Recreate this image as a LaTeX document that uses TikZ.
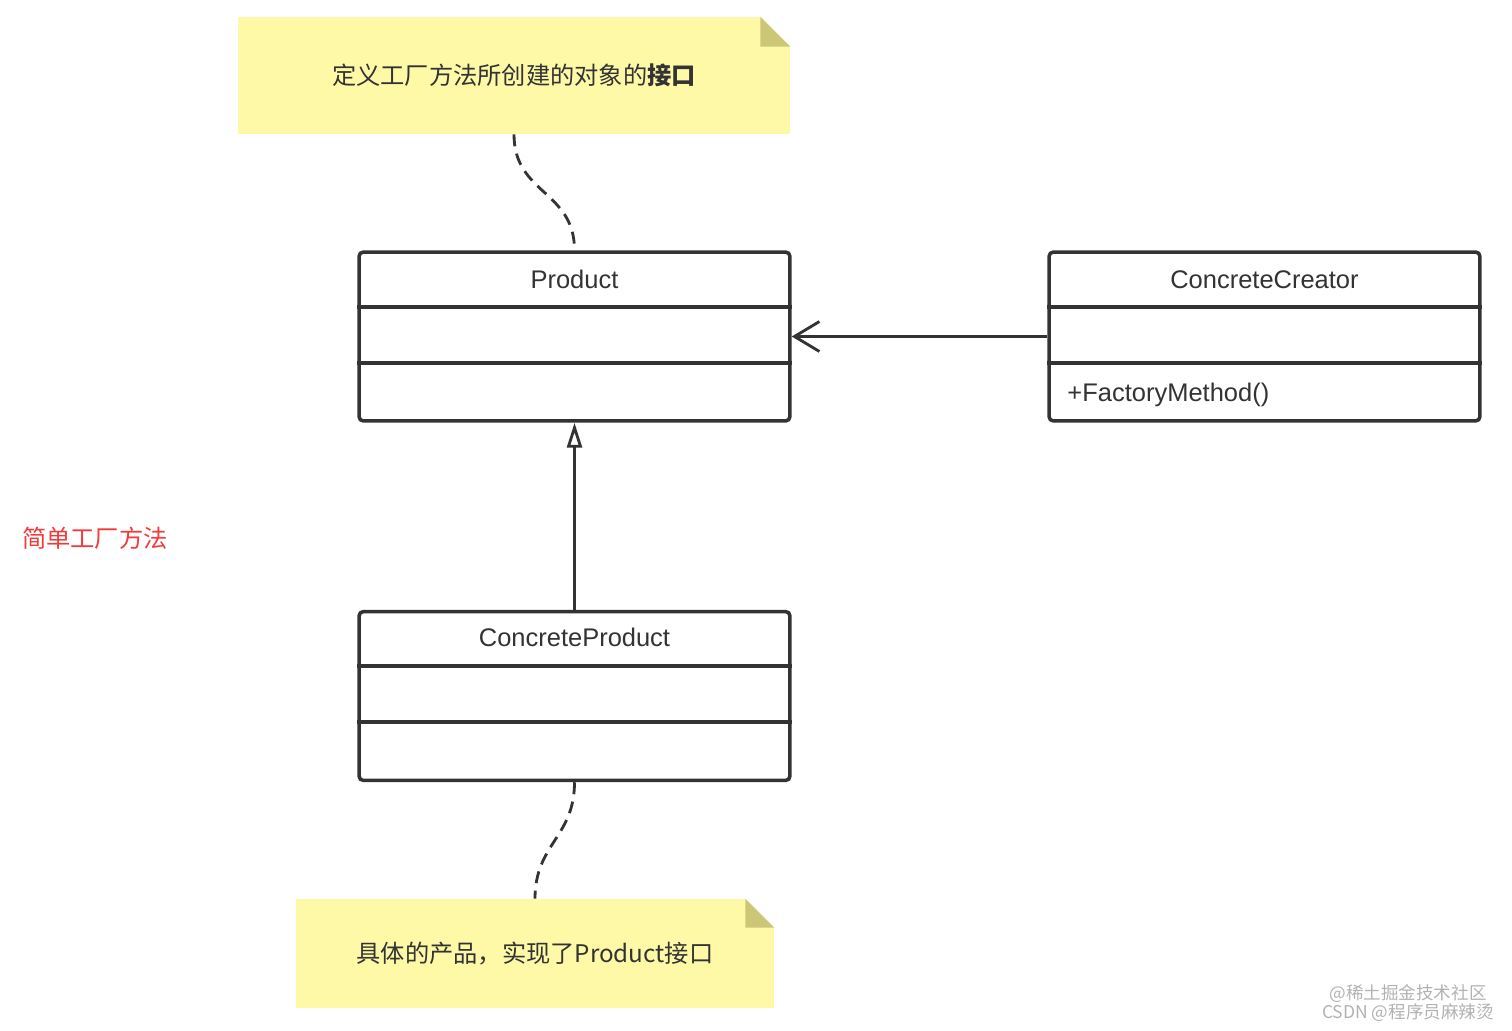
\documentclass[tikz,border=0pt]{standalone}
\usepackage{fontspec}
\setmainfont{Liberation Sans}
\newfontfamily\cjk{Noto Sans CJK SC}
\usetikzlibrary{arrows.meta,positioning}
\definecolor{notefill}{HTML}{FDF9A6}
\definecolor{notefold}{HTML}{CCC777}
\definecolor{umlline}{HTML}{333333}
\definecolor{tipred}{HTML}{F23A3A}

\begin{document}
\begin{tikzpicture}[x=0.02cm, y=-0.02cm,
  classbox/.style={draw=umlline, line width=2pt, rounded corners=2.5pt,
    minimum width=8.62cm, minimum height=3.38cm, inner sep=0pt},
  classname/.style={font=\fontsize{14.5}{17}\selectfont, text=umlline},
  divider/.style={draw=umlline, line width=2pt},
  notebox/.style={fill=notefill, inner sep=0pt},
  notetext/.style={font=\cjk\fontsize{13.8}{16}\selectfont, text=umlline},
  dashlink/.style={draw=umlline, line width=1.6pt, dash pattern=on 0.24cm off 0.15cm},
  link/.style={draw=umlline, line width=1.6pt}
]
  \useasboundingbox (0,0) rectangle (1512,1031);

  % Notes
  \node[notebox, minimum width=11.04cm, minimum height=2.34cm] (defnote) at (514,75.5) {};
  \fill[white] (defnote.north east) -- ++(-30,0) -- ++(30,30) -- cycle;
  \fill[notefold] (defnote.north east) ++(-30,0) -- ++(0,30) -- ++(30,0) -- cycle;
  \node[notetext] (deftext) at (defnote.center) {定义工厂方法所创建的对象的\textbf{接口}};

  \node[notebox, minimum width=9.56cm, minimum height=2.18cm] (implnote) at (535,953.5) {};
  \fill[white] (implnote.north east) -- ++(-29,0) -- ++(29,29) -- cycle;
  \fill[notefold] (implnote.north east) ++(-29,0) -- ++(0,29) -- ++(29,0) -- cycle;
  \node[notetext] (impltext) at (implnote.center) {具体的产品，实现了Product接口};

  % Classes
  \node[classbox] (product) at (574.5,336.5) {};
  \node[classname] (producttitle) at ([yshift=-0.58cm]product.north) {Product};
  \draw[divider] ([yshift=-1.14cm]product.north west) -- ([yshift=-1.14cm]product.north east);
  \draw[divider] ([yshift=-2.26cm]product.north west) -- ([yshift=-2.26cm]product.north east);

  \node[classbox] (creator) at (1264.5,336.5) {};
  \node[classname] (creatortitle) at ([yshift=-0.58cm]creator.north) {ConcreteCreator};
  \draw[divider] ([yshift=-1.14cm]creator.north west) -- ([yshift=-1.14cm]creator.north east);
  \draw[divider] ([yshift=-2.26cm]creator.north west) -- ([yshift=-2.26cm]creator.north east);
  \node[classname, anchor=west] (factorymethod) at ([xshift=0.28cm, yshift=0.56cm]creator.south west) {+FactoryMethod()};

  \node[classbox] (cproduct) at (574.5,696) {};
  \node[classname] (cproducttitle) at ([yshift=-0.56cm]cproduct.north) {ConcreteProduct};
  \draw[divider] ([yshift=-1.12cm]cproduct.north west) -- ([yshift=-1.12cm]cproduct.north east);
  \draw[divider] ([yshift=-2.24cm]cproduct.north west) -- ([yshift=-2.24cm]cproduct.north east);

  % Connectors
  \draw[dashlink] (defnote.south) .. controls +(0,60) and +(0,-60) .. (product.north);
  \draw[dashlink] (cproduct.south) .. controls +(0,55) and +(0,-55) .. (implnote.north);
  \draw[link, -{Straight Barb[length=0.5cm, width=0.6cm]}] (creator.west) -- (product.east);
  \draw[link, -{Triangle[open, length=0.5cm, width=0.3cm]}] (cproduct.north) -- (product.south);

  % Caption and watermark
  \node[font=\cjk\fontsize{13.8}{16}\selectfont, text=tipred, anchor=west] (caption) at (16,538) {简单工厂方法};
  \node[font=\cjk\fontsize{10}{10.8}\selectfont, text=black!30, align=center] (watermark) at (1408,1003)
    {@稀土掘金技术社区\\CSDN @程序员麻辣烫};

\end{tikzpicture}
\end{document}
